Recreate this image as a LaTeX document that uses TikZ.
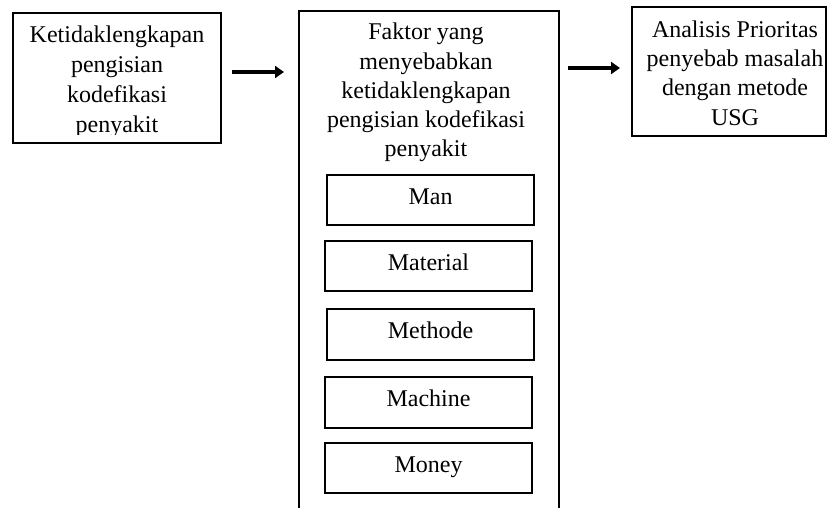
\documentclass[tikz,border=0pt]{standalone}
\usepackage{fontspec}
\setmainfont{Liberation Serif}
\usetikzlibrary{arrows.meta}
\begin{document}
\begin{tikzpicture}[x=1pt,y=-1pt,
  boxline/.style={line width=1.4pt},
  txt/.style={font=\fontsize{24}{30}\selectfont, align=center, inner sep=0pt, anchor=base},
  factor/.style={draw, boxline, minimum height=50pt, inner sep=0pt, font=\fontsize{24}{29}\selectfont, text height=16pt, text depth=8pt},
  arr/.style={line width=3.6pt, -{Triangle[length=9pt,width=12pt]}}]
\useasboundingbox (0,0) rectangle (827,508);
% left box
\node[draw, boxline, minimum width=208pt, minimum height=130pt, inner sep=0pt] (lbox) at (117,78) {};
\begin{scope}
\clip (14,14) rectangle (220,135);
\node[txt] (ltext) at (117,133) {Ketidaklengkapan\\pengisian\\kodefikasi\\penyakit};
\end{scope}
% middle box (open at bottom)
\coordinate (mbl) at (299,508);
\coordinate (mtl) at (299,11);
\coordinate (mtr) at (559,11);
\coordinate (mbr) at (559,508);
\draw[boxline] (mbl) -- (mtl) -- (mtr) -- (mbr);
\node[txt, font=\fontsize{24}{29.3}\selectfont] (mtext) at (426,157) {Faktor yang\\menyebabkan\\ketidaklengkapan\\pengisian kodefikasi\\penyakit};
% factor boxes
\node[factor, minimum width=207pt] (man) at (430.5,200) {Man};
\node[factor, minimum width=207pt] (material) at (428.5,266) {Material};
\node[factor, minimum width=207pt, minimum height=51pt] (methode) at (430.5,334.5) {Methode};
\node[factor, minimum width=207pt, minimum height=51pt] (machine) at (428.5,402.5) {Machine};
\node[factor, minimum width=207pt] (money) at (428.5,468) {Money};
% right box
\node[draw, boxline, minimum width=194pt, minimum height=129pt, inner sep=0pt] (rbox) at (729,71.5) {};
\node[txt, font=\fontsize{24}{29.3}\selectfont] (rtext) at (735,125) {Analisis Prioritas\\penyebab masalah\\dengan metode\\USG};
% arrows
\coordinate (a1s) at (232,72);
\coordinate (a1e) at (284,72);
\coordinate (a2s) at (568,68);
\coordinate (a2e) at (620,68);
\draw[arr] (a1s) -- (a1e);
\draw[arr] (a2s) -- (a2e);
\end{tikzpicture}
\end{document}
